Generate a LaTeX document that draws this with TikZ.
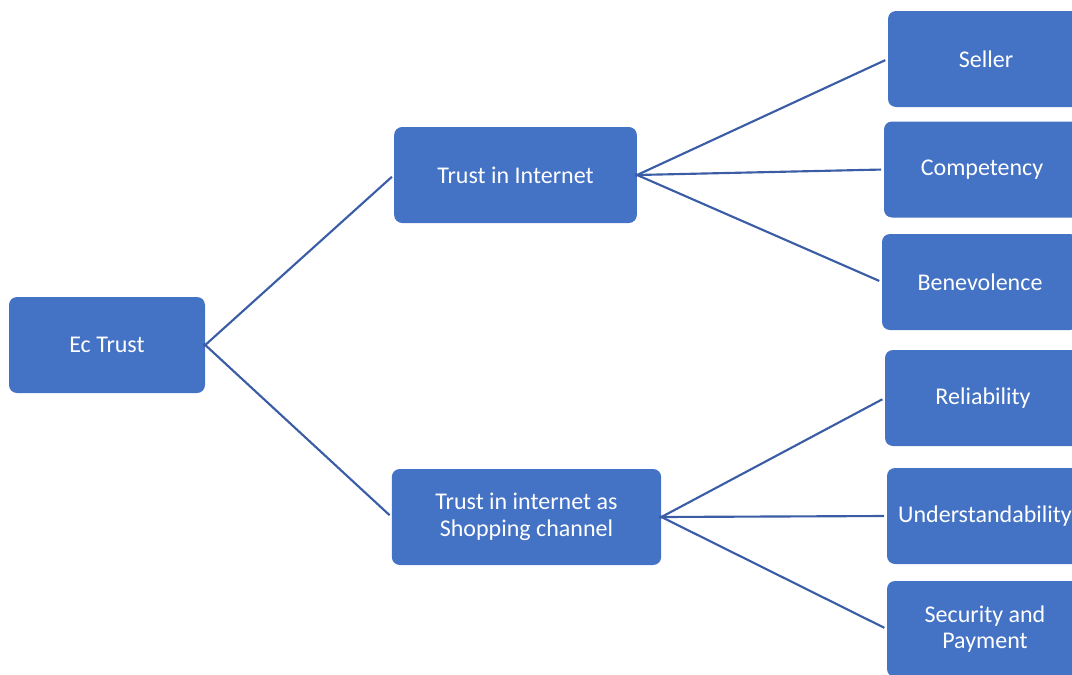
\documentclass[tikz,border=0pt]{standalone}
\usepackage{fontspec}
\setmainfont{Carlito}
\usepackage{xcolor}
\definecolor{boxblue}{HTML}{4472C4}
\definecolor{lineblue}{HTML}{3A5DA6}

\tikzset{
	item/.style={fill=boxblue, rounded corners=6pt, text=white, align=center,
		minimum width=147pt, minimum height=72pt, inner sep=1pt, font=\fontsize{18}{20}\selectfont},
	link/.style={draw=lineblue, line width=1.6pt, shorten >=2pt, shorten <=-1.5pt}
}

\begin{document}
\begin{tikzpicture}[x=0.75pt, y=-0.75pt]
	\useasboundingbox (0,0) rectangle (1072,675);
	\clip (0,0) rectangle (1072,675);
	% root and branches
	\node [item] (ec) at (107,345) {Ec Trust};
	\node [item, minimum width=182pt] (net) at (515.5,175) {Trust in Internet};
	\node [item, minimum width=202pt] (shop) at (526.5,517) {Trust in internet as\\Shopping channel};
	% leaves
	\node [item] (seller) at (986,59) {Seller};
	\node [item] (comp) at (982,169.5) {Competency};
	\node [item] (bene) at (980,282) {Benevolence};
	\node [item] (reli) at (983,398) {Reliability};
	\node [item] (under) at (985,516) {Understandability};
	\node [item] (secu) at (985,629) {Security and\\Payment};
	% connectors
	\draw [link] (ec.east) -- (net.west);
	\draw [link] (ec.east) -- (shop.west);
	\draw [link] (net.east) -- (seller.west);
	\draw [link] (net.east) -- (comp.west);
	\draw [link] (net.east) -- (bene.west);
	\draw [link] (shop.east) -- (reli.west);
	\draw [link] (shop.east) -- (under.west);
	\draw [link] (shop.east) -- (secu.west);
\end{tikzpicture}
\end{document}
